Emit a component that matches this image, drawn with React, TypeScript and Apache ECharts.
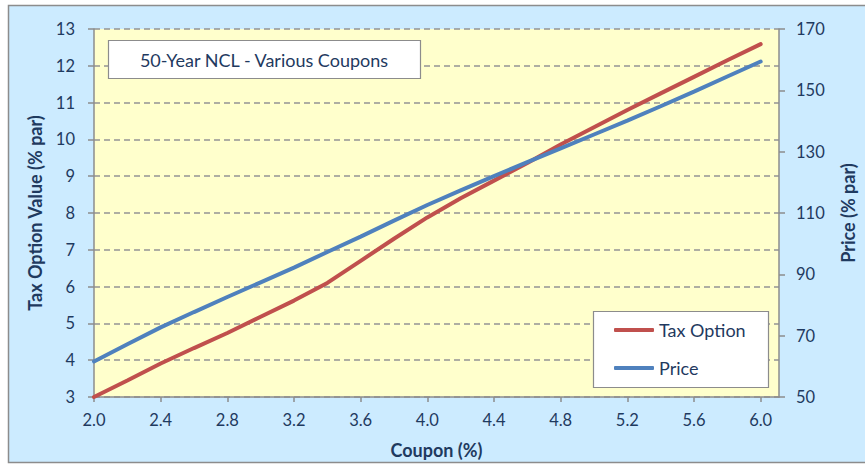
import React, { useEffect, useRef } from "react";
import * as echarts from "echarts";

const coupons = [2.0, 2.2, 2.4, 2.6, 2.8, 3.0, 3.2, 3.4, 3.6, 3.8, 4.0, 4.2, 4.4, 4.6, 4.8, 5.0, 5.2, 5.4, 5.6, 5.8, 6.0];
const taxOption = [3.0, 3.45, 3.91, 4.33, 4.74, 5.18, 5.62, 6.1, 6.7, 7.3, 7.88, 8.4, 8.88, 9.36, 9.86, 10.33, 10.8, 11.25, 11.7, 12.15, 12.59];
const price = [61.6, 67.2, 72.7, 77.7, 82.6, 87.4, 92.2, 97.3, 102.3, 107.5, 112.6, 117.4, 122.0, 126.6, 131.1, 135.6, 140.1, 144.8, 149.6, 154.5, 159.4];
const xTicks = [2.0, 2.4, 2.8, 3.2, 3.6, 4.0, 4.4, 4.8, 5.2, 5.6, 6.0];

const chartTitle = "50-Year NCL - Various Coupons";
const xTitle = "Coupon (%)";
const yLeftTitle = "Tax Option Value (% par)";
const yRightTitle = "Price (% par)";
const seriesNames = ["Tax Option", "Price"];

const FONT = "Lato";
const TEXT = "#1F3A5F";
const AXIS = "#8C8C8C";

export default function App() {
  const ref = useRef<HTMLDivElement>(null);
  useEffect(() => {
    if (!ref.current) return;
    const chart = echarts.init(ref.current, null, { renderer: "svg" });
    chart.setOption({
      animation: false,
      backgroundColor: "#ffffff",
      textStyle: { fontFamily: FONT, color: TEXT },
      graphic: [
        {
          type: "rect",
          z: -100,
          silent: true,
          shape: { x: 8.5, y: 5.5, width: 880, height: 457 },
          style: { fill: "#CCEBFF", stroke: AXIS, lineWidth: 1.5 },
        },
        {
          type: "rect",
          z: 100,
          shape: { x: 108.5, y: 40.5, width: 312, height: 38 },
          style: { fill: "#ffffff", stroke: AXIS, lineWidth: 1.2 },
        },
        {
          type: "text",
          z: 101,
          x: 264,
          y: 60,
          style: {
            text: chartTitle,
            fill: TEXT,
            font: `18px ${FONT}`,
            align: "center",
            verticalAlign: "middle",
          },
        },
        {
          type: "rect",
          z: 100,
          shape: { x: 593.5, y: 311.5, width: 175, height: 76 },
          style: { fill: "#ffffff", stroke: AXIS, lineWidth: 1.2 },
        },
      ],
      legend: {
        data: seriesNames,
        orient: "vertical",
        left: 614,
        top: 321,
        padding: 0,
        itemGap: 20,
        itemWidth: 40,
        itemHeight: 4,
        icon: "roundRect",
        z: 110,
        textStyle: { fontFamily: FONT, fontSize: 18, color: TEXT },
      },
      grid: {
        left: 94,
        top: 29,
        right: 78,
        bottom: 64,
        show: true,
        backgroundColor: "#FFFFCC",
        borderWidth: 0,
      },
      xAxis: {
        type: "value",
        min: 2.0,
        max: 6.11,
        interval: 0.4,
        name: xTitle,
        nameLocation: "middle",
        nameGap: 44,
        nameTextStyle: { fontFamily: FONT, fontSize: 18, fontWeight: "bold", color: TEXT },
        axisLine: { show: true, lineStyle: { color: AXIS, width: 1.5 } },
        axisTick: { show: true, length: 5, lineStyle: { color: AXIS, width: 1.5 }, customValues: xTicks },
        axisLabel: {
          customValues: xTicks,
          margin: 14,
          fontSize: 16.5,
          fontFamily: FONT,
          color: TEXT,
          formatter: (v: number) => v.toFixed(1),
        },
        splitLine: { show: false },
      },
      yAxis: [
        {
          type: "value",
          min: 3,
          max: 13,
          interval: 1,
          name: yLeftTitle,
          nameLocation: "middle",
          nameGap: 50,
          nameTextStyle: { fontFamily: FONT, fontSize: 18, fontWeight: "bold", color: TEXT },
          axisLine: { show: true, lineStyle: { color: AXIS, width: 1.5 } },
          axisTick: { show: true, length: 6, lineStyle: { color: AXIS, width: 1.5 } },
          axisLabel: { margin: 19, fontSize: 16.5, fontFamily: FONT, color: TEXT },
          splitLine: { show: true, lineStyle: { color: "#949494", width: 1.5, type: [6, 4] } },
        },
        {
          type: "value",
          min: 50,
          max: 170,
          interval: 20,
          position: "right",
          name: yRightTitle,
          nameLocation: "middle",
          nameGap: 60,
          nameRotate: 90,
          nameTextStyle: { fontFamily: FONT, fontSize: 18, fontWeight: "bold", color: TEXT },
          axisLine: { show: true, lineStyle: { color: AXIS, width: 1.5 } },
          axisTick: { show: true, length: 6, lineStyle: { color: AXIS, width: 1.5 } },
          axisLabel: { margin: 17, fontSize: 16.5, fontFamily: FONT, color: TEXT },
          splitLine: { show: false },
        },
      ],
      series: [
        {
          name: seriesNames[0],
          type: "line",
          yAxisIndex: 0,
          data: coupons.map((c, i) => [c, taxOption[i]]),
          showSymbol: false,
          symbol: "none",
          color: "#C0504D",
          lineStyle: { width: 4, color: "#C0504D", cap: "round" },
        },
        {
          name: seriesNames[1],
          type: "line",
          yAxisIndex: 1,
          data: coupons.map((c, i) => [c, price[i]]),
          showSymbol: false,
          symbol: "none",
          color: "#4F81BD",
          lineStyle: { width: 4, color: "#4F81BD", cap: "round" },
        },
      ],
    });
    return () => chart.dispose();
  }, []);
  return (
    <div style={{ position: "absolute", left: 0, top: 0, width: 865, height: 464 }}>
      <div ref={ref} style={{ width: 865, height: 464 }} />
    </div>
  );
}
